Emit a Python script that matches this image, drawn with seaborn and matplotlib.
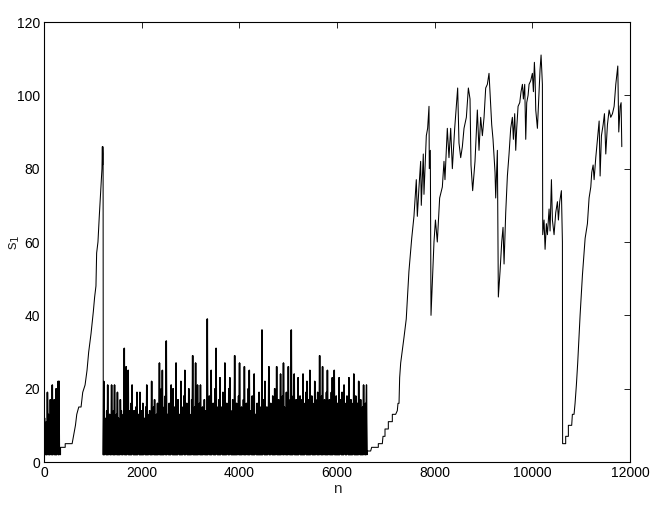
import numpy as np
import pandas as pd
import matplotlib
matplotlib.use("Agg")
import matplotlib.pyplot as plt
import seaborn as sns

# ---------------- data ----------------
# burst 1: n = 0..310, step 10 (trough, peak pairs)
noise1_lo = [2, 5, 2, 2, 8, 2, 2, 4, 2, 2, 9, 2, 2, 2, 6, 2]
noise1_hi = [12, 9, 11, 19, 13, 8, 17, 13, 21, 10, 17, 13, 20, 12, 22, 22]
noise1_start, noise1_step = 0, 10

# first growth ramp
ramp1_n = [320, 339, 339, 434, 434, 576, 603, 644, 671, 712, 759, 793, 841, 881,
           915, 963, 1010, 1037, 1064, 1078, 1105, 1132, 1166, 1187, 1195, 1200, 1205, 1210]
ramp1_v = [2, 2, 4, 4, 5, 5, 7, 10, 13, 15, 15, 19, 21, 25,
           30, 35, 41, 45, 48, 57, 60, 67, 75, 80, 86, 81, 86, 84]

# burst 2: n = 1214..6604, step 10 (trough, peak pairs)
noise2_start, noise2_step = 1214, 10
noise2_hi = [22, 12, 9, 14, 21, 10, 13, 8, 21, 11,
             14, 21, 9, 13, 19, 12, 8, 17, 14, 10,
             13, 31, 15, 26, 11, 25, 14, 9, 16, 21,
             12, 14, 10, 15, 19, 11, 13, 19, 9, 14,
             16, 12, 10, 15, 21, 13, 9, 14, 12, 22,
             11, 15, 17, 10, 13, 16, 12, 27, 14, 20,
             25, 11, 15, 18, 33, 13, 10, 16, 14, 21,
             12, 20, 15, 11, 27, 14, 17, 10, 13, 22,
             15, 12, 18, 25, 11, 16, 14, 20, 13, 10,
             17, 29, 12, 15, 27, 14, 21, 11, 16, 21,
             13, 15, 10, 17, 14, 12, 39, 15, 18, 11,
             25, 14, 16, 12, 20, 31, 13, 15, 17, 23,
             12, 15, 19, 14, 27, 11, 16, 13, 20, 23,
             14, 12, 17, 15, 29, 11, 16, 13, 18, 27,
             12, 15, 14, 17, 26, 11, 16, 13, 20, 25,
             14, 12, 18, 15, 24, 13, 11, 16, 14, 19,
             12, 15, 36, 13, 17, 22, 11, 15, 14, 26,
             13, 16, 12, 18, 14, 20, 15, 26, 13, 17,
             16, 24, 14, 18, 27, 15, 13, 19, 16, 26,
             14, 17, 36, 15, 18, 24, 13, 17, 16, 23,
             15, 18, 14, 17, 24, 16, 13, 19, 22, 15,
             17, 25, 14, 18, 16, 13, 22, 17, 15, 19,
             16, 29, 14, 18, 26, 15, 17, 13, 19, 25,
             14, 17, 16, 19, 23, 15, 25, 13, 18, 16,
             14, 23, 17, 15, 19, 13, 21, 16, 14, 18,
             15, 23, 13, 17, 16, 14, 24, 15, 18, 13,
             16, 22, 14, 17, 13, 15, 21, 14, 16, 21]
noise2_lo = [2, 2, 4, 2, 2, 2, 6, 2, 2, 3,
             2, 2, 2, 5, 2, 2, 2, 2, 8, 2,
             2, 3, 2, 2, 2, 6, 2, 2, 2, 2,
             4, 2, 2, 2, 2, 2, 7, 2, 2, 2,
             2, 2, 5, 2, 2, 2, 2, 3, 2, 2,
             2, 6, 2, 2, 2, 2, 2, 4, 2, 2,
             2, 2, 2, 9, 2, 2, 3, 2, 2, 2,
             5, 2, 2, 2, 2, 2, 2, 6, 2, 2,
             2, 2, 3, 2, 2, 7, 2, 2, 2, 2,
             2, 4, 2, 2, 2, 2, 2, 2, 5, 2,
             2, 2, 2, 6, 2, 2, 2, 2, 3, 2,
             2, 2, 8, 2, 2, 2, 4, 2, 2, 2,
             2, 5, 2, 2, 2, 2, 2, 3, 2, 2,
             6, 2, 2, 2, 2, 2, 2, 2, 4, 2,
             2, 2, 2, 7, 2, 2, 2, 5, 2, 2,
             2, 3, 2, 2, 2, 2, 6, 2, 2, 2,
             2, 2, 2, 2, 4, 2, 2, 2, 2, 8,
             2, 2, 5, 2, 2, 2, 2, 3, 2, 2,
             2, 2, 2, 6, 2, 2, 4, 2, 2, 2,
             3, 2, 2, 2, 2, 7, 2, 2, 2, 2,
             2, 5, 2, 2, 2, 2, 2, 9, 2, 2,
             2, 2, 2, 4, 2, 2, 2, 2, 6, 2,
             2, 2, 3, 2, 2, 2, 5, 2, 2, 2,
             2, 7, 2, 2, 2, 2, 4, 2, 2, 2,
             2, 2, 2, 6, 2, 2, 2, 3, 2, 2,
             5, 2, 2, 2, 2, 2, 8, 2, 2, 2,
             2, 2, 4, 2, 2, 2, 2, 3, 2, 2]

# second growth ramp
ramp2_n = [6621, 6621, 6689, 6710, 6846, 6846, 6928, 6942, 6983, 6983, 7051, 7051,
           7133, 7133, 7201, 7235, 7249, 7270, 7283, 7304, 7372, 7418, 7473, 7530]
ramp2_v = [2, 3, 3, 4, 4, 5, 5, 7, 7, 9, 9, 11,
           11, 13, 13, 14, 16, 16, 23, 27, 34, 39, 52, 61]

# large fluctuating phase
walk_n = [7576, 7624, 7645, 7679, 7713, 7726, 7767, 7781, 7829, 7856, 7884, 7890, 7911,
          7925, 7986, 8016, 8054, 8102, 8157, 8191, 8211, 8259, 8293, 8328, 8362, 8410,
          8444, 8471, 8498, 8533, 8567, 8601, 8649, 8690, 8724, 8744, 8778, 8826, 8874,
          8908, 8942, 8977, 9011, 9045, 9079, 9113, 9140, 9168, 9195, 9236, 9250, 9284,
          9304, 9339, 9373, 9400, 9421, 9455, 9489, 9523, 9557, 9591, 9612, 9639, 9660,
          9680, 9708, 9742, 9769, 9797, 9817, 9844, 9865, 9885, 9913, 9933, 9967, 10001,
          10022, 10042, 10056, 10070, 10104, 10138, 10158, 10179, 10206, 10213, 10240,
          10261, 10288, 10309, 10343, 10363, 10391, 10411, 10445, 10479, 10514, 10534,
          10561, 10595, 10616, 10620, 10683, 10683, 10738, 10738, 10806, 10820, 10854,
          10875, 10902, 10929, 10956, 10978, 11026, 11081, 11128, 11162, 11197, 11217,
          11245, 11265, 11299, 11340, 11368, 11388, 11415, 11450, 11477, 11504, 11538,
          11572, 11606, 11641, 11675, 11709, 11750, 11770, 11798, 11818, 11832]
walk_v = [67, 77, 67, 75, 82, 70, 84, 73, 89, 91, 97, 80, 85,
          40, 60, 66, 60, 72, 75, 82, 77, 91, 83, 91, 80, 91,
          97, 102, 87, 83, 86, 91, 94, 102, 99, 81, 74, 82, 96,
          85, 94, 89, 94, 102, 103, 106, 99, 92, 88, 79, 72, 85,
          45, 52, 60, 64, 54, 68, 78, 84, 91, 94, 88, 95, 85,
          91, 97, 98, 101, 103, 99, 103, 88, 98, 100, 103, 104, 106,
          101, 109, 105, 96, 91, 101, 107, 111, 103, 62, 66,
          58, 65, 62, 69, 63, 77, 66, 62, 68, 71, 66,
          71, 74, 60, 5, 5, 7, 7, 10, 10, 13, 13,
          16, 21, 27, 34, 40, 51, 61, 65, 72, 75, 79,
          81, 77, 83, 89, 93, 78, 89, 92, 95, 84, 92,
          96, 94, 95, 97, 103, 108, 90, 97, 98, 86]

x_ticks = [0, 2000, 4000, 6000, 8000, 10000, 12000]
y_ticks = [0, 20, 40, 60, 80, 100, 120]

# ---------------- assemble series ----------------
def pairs(lo, hi, start, step):
    v = np.column_stack([lo, hi]).ravel()
    n = start + step * np.arange(len(v))
    return n, v

n1, v1 = pairs(noise1_lo, noise1_hi, noise1_start, noise1_step)
n2, v2 = pairs(noise2_lo, noise2_hi, noise2_start, noise2_step)

# dense bursts and smooth parts drawn as two passes of the same series
df_burst = pd.DataFrame({
    "n": np.concatenate([n1, [np.nan], n2]),
    "s1": np.concatenate([v1, [np.nan], v2]),
})
df_all = pd.DataFrame({
    "n": np.concatenate([n1, ramp1_n, n2, ramp2_n, walk_n]),
    "s1": np.concatenate([v1, ramp1_v, v2, ramp2_v, walk_v]),
})

# ---------------- plot ----------------
sns.set_style("white")
plt.rcParams["font.family"] = ["Liberation Sans", "DejaVu Sans"]

fig = plt.figure(figsize=(6.54, 5.32), dpi=100)
ax = fig.add_axes([44 / 654, 70 / 532, 586 / 654, 440 / 532])
sns.lineplot(data=df_all, x="n", y="s1", sort=False, estimator=None,
             color="black", linewidth=0.75, ax=ax)
for seg_n, seg_v in [(n1, v1), (n2, v2)]:
    sns.lineplot(x=seg_n, y=seg_v, sort=False, estimator=None,
                 color="black", linewidth=1.1, ax=ax)

ax.set_xlim(0, 12000)
ax.set_ylim(0, 120)
ax.set_xticks(x_ticks)
ax.set_yticks(y_ticks)
ax.set_xticklabels([str(t) for t in x_ticks])
ax.set_yticklabels([str(t) for t in y_ticks])
ax.tick_params(direction="in", length=4, width=0.6, labelsize=10,
               top=True, right=True, colors="black", pad=3)
for sp in ax.spines.values():
    sp.set_visible(True)
    sp.set_color("black")
    sp.set_linewidth(0.8)
ax.set_xlabel("n", fontsize=11, labelpad=1)
ax.set_ylabel("s$_1$", fontsize=11)
ax.yaxis.set_label_coords(-0.038, 0.5)

fig.savefig("out.png", dpi=100)
